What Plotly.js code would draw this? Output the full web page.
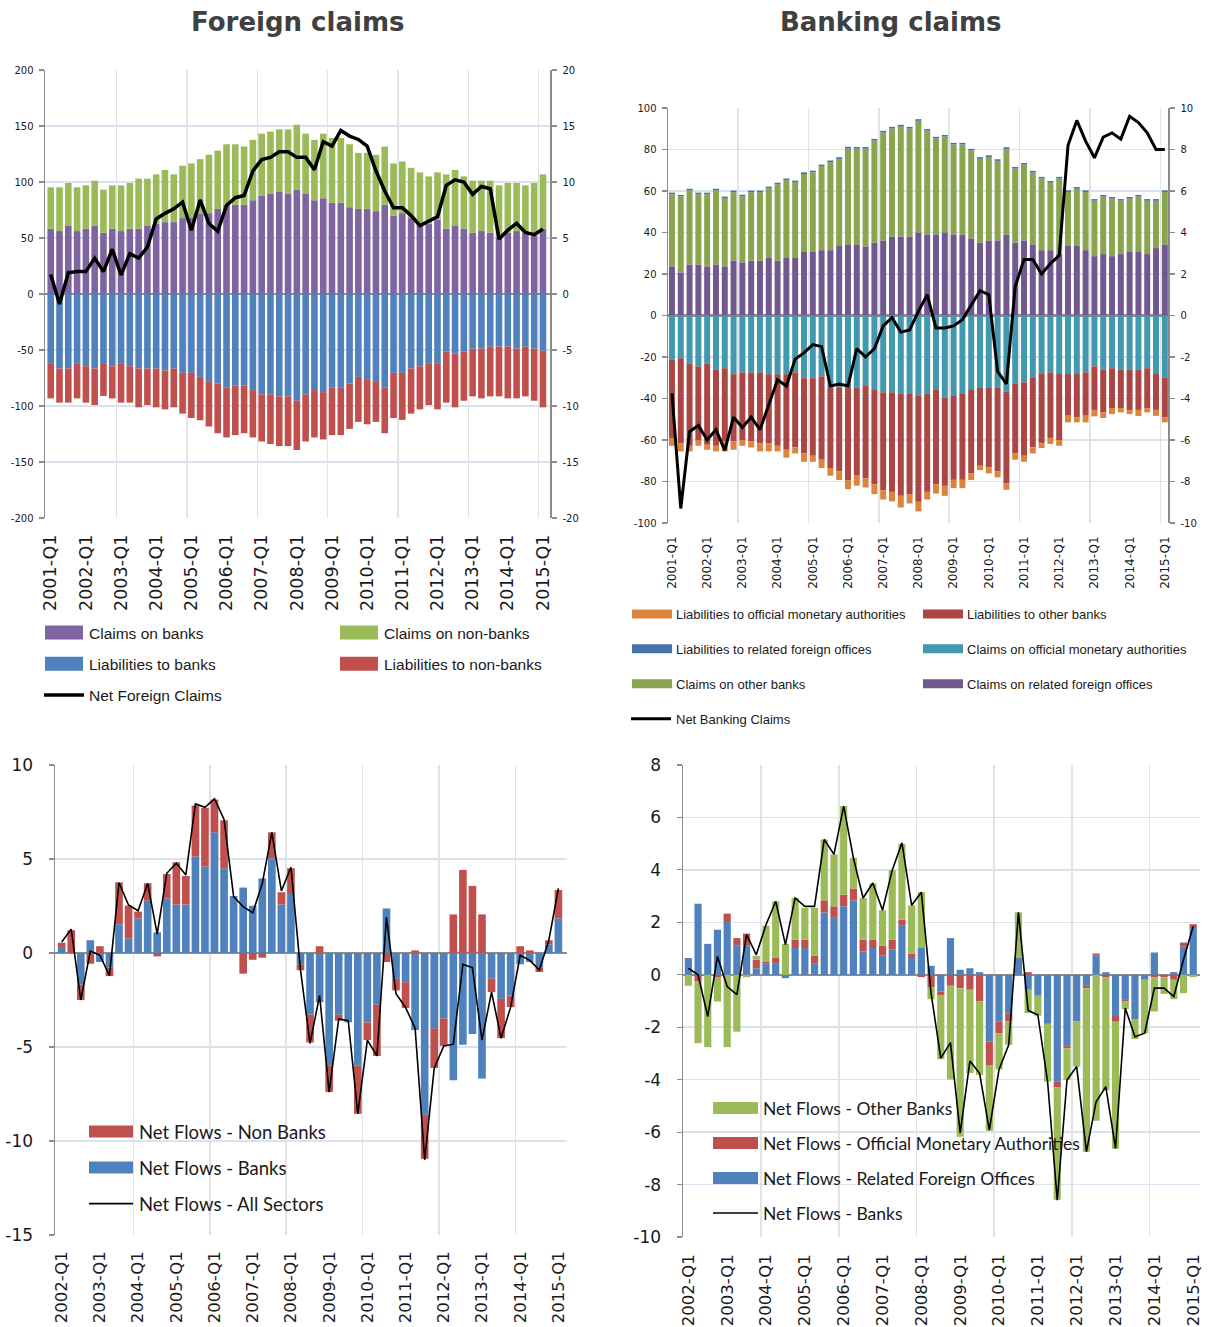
<!DOCTYPE html>
<html>
<head>
<meta charset="utf-8">
<script src="https://cdn.plot.ly/plotly-3.0.1.min.js"></script>
<style>
html, body { margin: 0; padding: 0; background: #ffffff; overflow: hidden; }
#chart { width: 1212px; height: 1327px; }
</style>
</head>
<body>
<div id="chart"></div>
<script>
// ---------------- categories / tick labels ----------------
const quartersA = [];
for (let y = 2001; y <= 2015; y++) { for (let k = 1; k <= 4; k++) { if (y === 2015 && k > 1) break; quartersA.push(y + '-Q' + k); } }
const quartersB = quartersA.slice(4); // 2002-Q1 .. 2015-Q1

const tickLabelsA = ['2001-Q1','2002-Q1','2003-Q1','2004-Q1','2005-Q1','2006-Q1','2007-Q1','2008-Q1','2009-Q1','2010-Q1','2011-Q1','2012-Q1','2013-Q1','2014-Q1','2015-Q1'];
const tickLabelsB = ['2002-Q1','2003-Q1','2004-Q1','2005-Q1','2006-Q1','2007-Q1','2008-Q1','2009-Q1','2010-Q1','2011-Q1','2012-Q1','2013-Q1','2014-Q1','2015-Q1'];

const yTicksP1Left = [-200,-150,-100,-50,0,50,100,150,200];
const yTicksP1Right = [-20,-15,-10,-5,0,5,10,15,20];
const yTicksP2Left = [-100,-80,-60,-40,-20,0,20,40,60,80,100];
const yTicksP2Right = [-10,-8,-6,-4,-2,0,2,4,6,8,10];
const yTicksP3 = [-15,-10,-5,0,5,10];
const yTicksP4 = [-10,-8,-6,-4,-2,0,2,4,6,8];

// ---------------- Panel 1: Foreign claims ----------------
const claimsOnBanks = [58.3,56.2,60.7,56.2,58.3,60.7,54.7,58.3,56.2,58.3,58.3,60.7,62.7,64.2,64.2,67.8,67.8,71.6,72.2,76,
  79.6,79.6,79.6,83.7,87.6,89.3,91.1,89.3,92.9,89.3,83.7,85.5,81.4,81.4,77.5,76,76,74,79.6,
  70.1,72.2,67.8,62.7,62.7,66.3,58.3,60.7,58.3,54.7,56.2,54.7,50,54.7,56.2,54.7,52.4,58.3];
const claimsOnNonBanks = [37.0,39.1,38.4,39.1,38.7,40.5,38.5,38.7,40.8,40.8,44.7,42.3,44.1,46.5,42.6,46.7,48.8,48.8,52.1,52,
  54.1,54.1,52.1,53.9,55.6,55.7,55.9,57.7,58.3,53.9,53.9,57.7,57.9,57.9,56.2,50,50,50.3,52.1,
  46.5,46.1,44.9,45.9,42.3,42.3,48.5,50,46.7,46.5,45,46.5,47,44.4,42.9,42.3,46.7,48.5];
const liabToBanks = [-62.4,-66.6,-66.6,-62.4,-64.5,-66.6,-62.4,-64.5,-62.4,-64.5,-66.6,-66.6,-66.6,-68.3,-66.6,-70.4,-70.4,-74,-77.8,-79.9,
  -83.7,-81.7,-81.7,-85.8,-89.6,-89.6,-91.4,-91.4,-95.3,-89.6,-85.8,-87.6,-83.7,-83.7,-79.9,-74,-76,-77.8,-83.7,
  -70.4,-70.4,-66.6,-64.5,-62.4,-62.4,-51.2,-53,-51.2,-48.8,-48.8,-47,-47,-47,-48.8,-47,-48.8,-50.6];
const liabToNonBanks = [-30.8,-30.4,-30.4,-30.8,-32.5,-32.5,-28.7,-28.7,-34.6,-32.5,-34.6,-32.5,-34.6,-34.7,-34.6,-36.4,-40.3,-38.7,-40.5,-44.4,
  -44.4,-44.3,-42.6,-42.3,-42.1,-44.4,-44.4,-44.4,-44,-42.1,-42.3,-42.3,-42.3,-42.3,-40.5,-40.2,-40.3,-36.4,-40.6,
  -40.3,-42,-40.2,-38.5,-36.7,-40.6,-45.8,-48.2,-44.1,-42.6,-44.4,-44.4,-44.4,-46.2,-44.4,-44.4,-46.5,-50.6];
const netForeignClaims = [1.75,-0.9,1.9,2.0,2.0,3.2,2.0,4.0,1.7,3.6,3.2,4.2,6.7,7.2,7.6,8.2,5.7,8.4,6.3,5.6,
  7.9,8.6,8.8,11.0,12.0,12.2,12.7,12.7,12.2,12.2,11.1,13.6,13.2,14.6,14.1,13.8,13.2,11.0,9.2,
  7.7,7.7,7.0,6.1,6.5,6.9,9.7,10.2,10.0,8.9,9.6,9.4,4.9,5.7,6.3,5.5,5.3,5.8];

// ---------------- Panel 2: Banking claims ----------------
const claimsRelatedOffices = [23.7,20.8,24.6,24.6,23.7,24.6,23.7,26.5,25.6,26.5,26.5,27.7,26.5,27.7,27.7,30.6,30.6,31.5,31.5,33.5,
  34.3,34.3,33.3,35.2,36.2,38.1,38.1,38.1,40.1,39.1,39.1,40.1,39.1,39.1,37.2,35.2,36.2,36.2,39.1,
  35.2,36.2,34.3,31.5,31.5,29.8,33.5,33.5,31.5,28.6,29.6,28.6,29.6,30.6,30.6,29.6,32.5,34.3];
const claimsOtherBanks = [34.7,36.6,35.7,33.8,34.7,35.7,32.8,32.9,31.8,32.9,32.9,33.6,36.7,37.5,36.5,37.6,38.4,40.4,42.4,42,
  46.1,46.1,47.1,49.1,52,52,53,52,53.7,50,46.2,46.1,43.3,43.3,42.3,40.3,40.2,38.3,41.2,
  35.6,36.5,34.6,34.5,32.5,36.2,26,27.6,28,26.7,27.7,27.7,25.7,25.7,26.7,25.7,22.8,25.2];
const liabRelatedOffices = [0.8,0.7,0.8,0.8,0.8,0.8,0.8,0.8,0.8,0.8,0.8,0.8,0.8,0.8,0.8,0.8,0.8,0.8,0.8,0.8,
  0.9,0.8,0.8,0.8,0.8,0.8,0.8,0.8,0.8,0.8,0.8,0.8,0.8,0.8,0.8,0.8,0.8,0.8,0.8,
  0.8,0.8,0.8,0.8,0.8,0.8,0.8,0.8,0.8,0.8,0.8,0.8,0.8,0.8,0.8,0.8,0.8,0.8];
const claimsOfficialMA = [-21.4,-20.6,-23.3,-24.5,-23.3,-26.2,-25.4,-28.3,-27.4,-27.4,-27.4,-28.3,-28.3,-28.3,-27.4,-30.2,-30.2,-29.3,-34.9,-34.9,
  -34.9,-34.9,-34,-35.9,-37,-37,-37.8,-37.8,-38.8,-37.8,-35.9,-39.7,-38.8,-37.8,-35.9,-34.9,-34.9,-34.9,-36.8,
  -33,-32.2,-30.1,-28.2,-27.4,-28.2,-28.2,-28.2,-27.4,-24.5,-26.2,-25.4,-26.2,-26.2,-26.2,-25.4,-28.2,-30.1];
const liabOtherBanks = [-37.6,-41,-39.5,-35.5,-39,-36.6,-35.3,-32.4,-32.6,-33.3,-34.2,-33.3,-34.5,-36.4,-36.2,-36.3,-37.4,-40.2,-38.6,-40.2,
  -44.4,-42.3,-44.4,-45.4,-47.2,-48,-49.1,-48.3,-51,-47.2,-45.4,-42.4,-40.4,-41.4,-40.2,-37.5,-38.3,-40.2,-44.1,
  -33.5,-35.4,-33.5,-33.4,-31.6,-31.8,-20.1,-20.9,-20.9,-21,-20.5,-19.2,-18.4,-19.3,-19.3,-19.2,-17.3,-19];
const liabOfficialMA = [-3.8,-3.9,-2.7,-2.8,-2.4,-2.7,-4.8,-4,-2.8,-2.9,-3.9,-3.9,-2.7,-3.8,-2.9,-4,-2.9,-4,-3.7,-4.2,
  -4.4,-4.8,-4.5,-4.8,-4.5,-4.6,-5.6,-4.5,-4.6,-3.7,-4.5,-4.8,-4,-4,-3.2,-2.1,-2.9,-2.9,-3.1,
  -3,-2.9,-2.9,-2.3,-2.9,-2.8,-3.2,-2.4,-3.2,-3.1,-2.7,-2.9,-2.1,-2,-2.9,-2.1,-2.9,-2.4];
const netBankingClaims = [-3.75,-9.3,-5.6,-5.3,-6.0,-5.5,-6.5,-4.9,-5.4,-4.9,-5.5,-4.3,-3.1,-3.4,-2.1,-1.8,-1.4,-1.5,-3.4,-3.3,
  -3.4,-1.6,-2.0,-1.6,-0.5,-0.1,-0.8,-0.7,0.2,1.0,-0.6,-0.6,-0.5,-0.2,0.5,1.2,1.0,-2.7,-3.3,
  1.4,2.7,2.7,2.0,2.5,2.9,8.2,9.4,8.4,7.6,8.6,8.8,8.5,9.6,9.3,8.8,8.0,8.0];

// ---------------- Panel 3: Net flows by sector ----------------
const flowsBanks = [0.27,0,-1.68,0.68,-0.48,-0.78,1.53,0.77,1.84,2.78,1.1,2.9,2.58,2.58,5.13,4.6,6.42,4.51,
  3.03,3.48,2.51,3.97,5.04,2.58,3.14,-0.6,-3.28,-2.62,-6.0,-3.28,-3.69,-6.0,-3.69,-2.75,2.37,-1.37,
  -1.55,-4.1,-8.6,-4.0,-3.48,-6.77,-4.88,-4.31,-6.68,-1.37,-2.44,-2.26,-0.6,-0.48,-0.78,0.46,1.84];
const flowsNonBanks = [0.28,1.21,-0.82,-0.57,0.36,-0.45,2.23,1.75,0.36,0.93,-0.18,1.3,2.25,1.52,2.71,3.12,1.74,2.55,
  0,-1.1,-0.36,-0.25,1.38,0.65,1.37,-0.32,-1.48,0.36,-1.39,-0.32,0,-2.55,-0.94,-2.73,-0.48,-0.62,
  -1.37,0.14,-2.35,-2.12,-1.46,2.05,4.42,3.57,2.05,-0.71,-2.09,-0.62,0.36,0.14,-0.23,0.22,1.51];
const flowsAllSectors = [0.59,1.27,-2.5,0.1,-0.12,-1.2,3.74,2.55,2.25,3.7,1.0,4.24,4.78,4.15,7.93,7.75,8.2,7.1,
  3.0,2.46,2.14,3.7,6.42,3.3,4.56,-0.9,-4.81,-2.26,-7.4,-3.51,-3.6,-8.56,-4.63,-5.47,1.9,-2.17,
  -2.9,-4.0,-11.0,-6.13,-4.94,-4.85,-0.6,-0.78,-4.63,-2.08,-4.53,-2.88,-0.12,-0.39,-0.9,0.68,3.44];

// ---------------- Panel 4: Net bank flows by counterpart ----------------
const flowsRelatedOffices = [0.64,2.71,1.18,1.72,2.01,1.11,1.11,0.25,0.42,0.42,-0.13,1.02,1.02,0.42,2.38,2.17,2.61,2.84,
  0.89,1.02,0.73,0.96,1.87,0.64,1.02,0.34,-0.64,1.40,0.19,0.25,0.1,-2.55,-1.78,-1.49,0.64,-0.57,
  -0.8,-1.87,-4.08,-2.71,-1.78,-0.42,0.73,0.1,-1.57,-0.93,-1.69,-0.19,0.85,0,0.1,1.08,1.78];
const flowsOfficialMA = [0,-0.25,0,-0.09,0.32,0.29,0.46,0.32,0.09,0.24,0,0.32,0.32,0.31,0.46,0.44,0.45,0.45,
  0.45,0.32,0.38,0.38,0.23,0.16,-0.09,-0.48,-0.15,-0.42,-0.51,-0.57,-1.02,-0.89,-0.45,-0.29,0,0.1,
  0,0,-0.22,-0.09,0,-0.09,0.08,-0.09,-0.22,-0.09,0,0,-0.09,-0.09,-0.19,0.15,0.15];
const flowsOtherBanks = [-0.42,-2.36,-2.76,-0.93,-2.76,-2.17,-0.09,0.15,1.36,2.14,1.18,1.59,1.21,1.82,2.32,1.98,3.37,1.17,
  1.59,2.14,1.35,2.65,2.89,1.85,2.13,-0.45,-2.43,-3.57,-5.67,-3.18,-2.8,-2.51,-1.38,-0.89,1.74,-0.89,
  -0.76,-2.2,-4.28,-1.21,-1.72,-6.24,-5.57,-4.31,-4.84,-0.29,-0.76,-2.04,-1.31,-0.64,-0.74,-0.7,-0.09];
const flowsBanksTotal = [0.25,0,-1.59,0.7,-0.45,-0.76,1.53,0.76,1.91,2.8,1.15,2.93,2.61,2.61,5.16,4.59,6.43,4.46,
  2.93,3.5,2.46,3.99,5.03,2.65,3.15,-0.7,-3.18,-2.59,-6.03,-3.29,-3.76,-5.92,-3.61,-2.67,2.38,-1.36,
  -1.53,-4.07,-8.6,-4.01,-3.5,-6.75,-4.84,-4.27,-6.62,-1.27,-2.36,-2.23,-0.51,-0.51,-0.83,0.57,1.85];

// ---------------- styling ----------------
const W = 1212, H = 1327;
const px = v => v / W;
const py = v => 1 - v / H;
const TICK_FONT = 'DejaVu Sans, Verdana, sans-serif';
const NARROW = '"Liberation Sans", Arial, sans-serif';
const CALI = 'Lato, Carlito, Calibri, sans-serif';
const GRID_BLUE = '#d9e3f0';
const GRID_GRAY = '#e3e3e3';
const AXIS_GRAY = '#8c8c8c';
const TXT = '#1a1a1a';

const xA = quartersA.map((q, i) => i);
const xB = quartersB.map((q, i) => i);
const tickPosA = tickLabelsA.map(t => quartersA.indexOf(t));
const tickPosB = tickLabelsB.map(t => quartersB.indexOf(t));
const minorA = xA.filter(i => i % 8 === 7).map(i => i + 0.5);
const minorB = xB.filter(i => i % 8 === 7).map(i => i + 0.5);

function bar(name, x, y, color, xa, ya, width, legend, rank) {
  return { type: 'bar', name: name, x: x, y: y, xaxis: xa, yaxis: ya, width: width,
    marker: { color: color, line: { width: 0 } }, legend: legend, legendrank: rank, legendgroup: name,
    hoverinfo: 'skip' };
}
function line(name, x, y, xa, ya, w, legend, rank) {
  return { type: 'scatter', mode: 'lines', name: name, x: x, y: y, xaxis: xa, yaxis: ya,
    line: { color: '#000000', width: w }, legend: legend, legendrank: rank, legendgroup: name, hoverinfo: 'skip' };
}

const data = [
  // panel 1
  bar('Claims on banks', xA, claimsOnBanks, '#8064a2', 'x', 'y', 0.75, 'legend', 1),
  bar('Claims on non-banks', xA, claimsOnNonBanks, '#9bbb59', 'x', 'y', 0.75, 'legend2', 1),
  bar('Liabilities to banks', xA, liabToBanks, '#4f81bd', 'x', 'y', 0.75, 'legend', 2),
  bar('Liabilities to non-banks', xA, liabToNonBanks, '#c0504d', 'x', 'y', 0.75, 'legend2', 2),
  line('Net Foreign Claims', xA, netForeignClaims, 'x', 'y5', 3.5, 'legend', 3),
  // panel 2
  bar('Claims on related foreign offices', xA, claimsRelatedOffices, '#71588f', 'x2', 'y2', 0.68, 'legend4', 3),
  bar('Claims on other banks', xA, claimsOtherBanks, '#89a54e', 'x2', 'y2', 0.68, 'legend3', 3),
  bar('Liabilities to related foreign offices', xA, liabRelatedOffices, '#4572a7', 'x2', 'y2', 0.68, 'legend3', 2),
  bar('Claims on official monetary authorities', xA, claimsOfficialMA, '#4198af', 'x2', 'y2', 0.68, 'legend4', 2),
  bar('Liabilities to other banks', xA, liabOtherBanks, '#aa4643', 'x2', 'y2', 0.68, 'legend4', 1),
  bar('Liabilities to official monetary authorities', xA, liabOfficialMA, '#db843d', 'x2', 'y2', 0.68, 'legend3', 1),
  line('Net Banking Claims', xA, netBankingClaims, 'x2', 'y6', 3, 'legend3', 4),
  // panel 3
  bar('Net Flows - Banks', xB, flowsBanks, '#4f81bd', 'x3', 'y3', 0.8, 'legend5', 2),
  bar('Net Flows - Non Banks', xB, flowsNonBanks, '#c0504d', 'x3', 'y3', 0.8, 'legend5', 1),
  line('Net Flows - All Sectors', xB, flowsAllSectors, 'x3', 'y3', 1.6, 'legend5', 3),
  // panel 4
  bar('Net Flows - Related Foreign Offices', xB, flowsRelatedOffices, '#4f81bd', 'x4', 'y4', 0.74, 'legend6', 3),
  bar('Net Flows - Official Monetary Authorities', xB, flowsOfficialMA, '#c0504d', 'x4', 'y4', 0.74, 'legend6', 2),
  bar('Net Flows - Other Banks', xB, flowsOtherBanks, '#9bbb59', 'x4', 'y4', 0.74, 'legend6', 1),
  line('Net Flows - Banks', xB, flowsBanksTotal, 'x4', 'y4', 1.6, 'legend6', 4)
];

function xAxis(domain, range, tickvals, ticktext, minorVals, fontSize, standoff, anchor) {
  return { type: 'linear', domain: domain, range: range, anchor: anchor, tickmode: 'array',
    tickvals: tickvals, ticktext: ticktext, tickangle: -90, ticks: '', showgrid: false, zeroline: false,
    showline: false, ticklabelstandoff: standoff, fixedrange: true, automargin: false,
    tickfont: { family: TICK_FONT, size: fontSize, color: TXT },
    minor: { tickmode: 'array', tickvals: minorVals, showgrid: true, gridcolor: GRID_GRAY, gridwidth: 1.5, ticks: '' } };
}
function yAxis(domain, range, ticks, fontSize, anchor, standoff) {
  return { domain: domain, range: range, tickmode: 'array', tickvals: ticks, ticktext: ticks.map(String), anchor: anchor,
    showgrid: true, gridcolor: GRID_BLUE, gridwidth: 1.5, zeroline: true, zerolinecolor: AXIS_GRAY, zerolinewidth: 2.2,
    showline: true, linecolor: AXIS_GRAY, linewidth: 1.5, ticks: 'outside', ticklen: 5, tickcolor: AXIS_GRAY,
    tickwidth: 1.2, ticklabelstandoff: standoff, fixedrange: true, automargin: false,
    tickfont: { family: TICK_FONT, size: fontSize, color: TXT } };
}
function yRight(overlay, range, ticks, fontSize, anchor) {
  return { overlaying: overlay, side: 'right', anchor: anchor, range: range, tickmode: 'array', tickvals: ticks,
    ticktext: ticks.map(String), showgrid: false, zeroline: false, showline: true, linecolor: AXIS_GRAY, linewidth: 1.5,
    ticks: 'outside', ticklen: 5, tickcolor: AXIS_GRAY, tickwidth: 1.2, ticklabelstandoff: 4, fixedrange: true,
    automargin: false, tickfont: { family: TICK_FONT, size: fontSize, color: TXT } };
}
function legendBox(x, y, family, size, gap) {
  return { x: x, y: y, xref: 'paper', yref: 'paper', xanchor: 'left', yanchor: 'top', orientation: 'v',
    bgcolor: 'rgba(0,0,0,0)', borderwidth: 0, traceorder: 'grouped', tracegroupgap: gap, itemwidth: 40,
    font: { family: family, size: size, color: TXT }, itemclick: false, itemdoubleclick: false };
}

const layout = {
  width: W, height: H,
  margin: { l: 0, r: 0, t: 0, b: 0, pad: 0, autoexpand: false },
  paper_bgcolor: '#ffffff', plot_bgcolor: 'rgba(0,0,0,0)',
  barmode: 'relative', bargap: 0.25,
  showlegend: true,
  // panel 1
  xaxis: xAxis([px(45), px(550)], [-0.65, 56.8], tickPosA, tickLabelsA, minorA, 17.5, 12, 'y'),
  yaxis: yAxis([py(518), py(70)], [-200, 200], yTicksP1Left, 10, 'x', 3),
  yaxis5: yRight('y', [-20, 20], yTicksP1Right, 10, 'x'),
  // panel 2
  xaxis2: xAxis([px(668), px(1168)], [-0.45, 56.36], tickPosA, tickLabelsA, minorA, 12, 10, 'y2'),
  yaxis2: yAxis([py(523), py(108)], [-100, 100], yTicksP2Left, 10, 'x2', 3),
  yaxis6: yRight('y2', [-10, 10], yTicksP2Right, 10, 'x2'),
  // panel 3
  xaxis3: xAxis([px(55), px(567)], [-0.7, 52.9], tickPosB, tickLabelsB, minorB, 16.5, 12, 'y3'),
  yaxis3: yAxis([py(1235), py(765)], [-15, 10], yTicksP3, 17, 'x3', 12),
  // panel 4
  xaxis4: xAxis([px(683), px(1200)], [-0.55, 52.7], tickPosB, tickLabelsB, minorB, 16.5, 13, 'y4'),
  yaxis4: yAxis([py(1237), py(765)], [-10, 8], yTicksP4, 17, 'x4', 12),
  legend: legendBox(px(39), py(616), NARROW, 15.5, 8),
  legend2: legendBox(px(334), py(616), NARROW, 15.5, 8),
  legend3: legendBox(px(626), py(599), NARROW, 13, 15),
  legend4: legendBox(px(917), py(599), NARROW, 13, 15),
  legend5: legendBox(px(89), py(1113), CALI, 18.5, 9),
  legend6: legendBox(px(713), py(1090), CALI, 17.5, 9.3),
  annotations: [
    { text: 'Foreign claims', x: px(297), y: py(22), xref: 'paper', yref: 'paper', xanchor: 'center', yanchor: 'middle',
      showarrow: false, font: { family: 'DejaVu Sans, Verdana, sans-serif', size: 26, weight: 'bold', color: '#404040' } },
    { text: 'Banking claims', x: px(891), y: py(22), xref: 'paper', yref: 'paper', xanchor: 'center', yanchor: 'middle',
      showarrow: false, font: { family: 'DejaVu Sans, Verdana, sans-serif', size: 26, weight: 'bold', color: '#404040' } }
  ]
};

// wide rectangular legend swatches, as in the reference
const swatchPaths = {
  legend: 'M19,7H-19V-7H19Z', legend2: 'M19,7H-19V-7H19Z',
  legend3: 'M21,4.5H-19V-4.5H21Z', legend4: 'M21,4.5H-19V-4.5H21Z',
  legend5: 'M19,6H-32V-6H19Z', legend6: 'M20,6H-28V-6H20Z'
};
const linePaths = { legend5: 'M-7,0h51', legend6: 'M-3,0h48' };

const chartEl = document.getElementById('chart');
function legendAt(cx, cy) {
  if (cy > 600 && cy < 735) {
    if (cx < 300) return 'legend';
    if (cx < 610) return 'legend2';
    if (cx < 905) return 'legend3';
    return 'legend4';
  }
  if (cy > 1090 && cy < 1230) return cx < 606 ? 'legend5' : 'legend6';
  return null;
}
function restyleLegendSymbols() {
  const base = chartEl.getBoundingClientRect();
  chartEl.querySelectorAll('path').forEach(function (p) {
    if (p.getAttribute('data-sw') === '1') return;
    const r = p.getBoundingClientRect();
    if (!r || (r.width === 0 && r.height === 0)) return;
    const cx = r.left - base.left + r.width / 2;
    const cy = r.top - base.top + r.height / 2;
    const lg = legendAt(cx, cy);
    if (!lg) return;
    if (Math.abs(r.width - 12) < 1.6 && Math.abs(r.height - 12) < 1.6) {
      p.setAttribute('d', swatchPaths[lg]);
      p.setAttribute('data-sw', '1');
    } else if (r.height < 5 && r.width > 25 && r.width < 46 && linePaths[lg]) {
      p.setAttribute('d', linePaths[lg]);
      p.setAttribute('data-sw', '1');
    }
  });
}

Plotly.newPlot('chart', data, layout, { displayModeBar: false, staticPlot: true }).then(function () {
  restyleLegendSymbols();
  [0, 20, 60, 150, 400].forEach(function (t) { setTimeout(restyleLegendSymbols, t); });
});
</script>
</body>
</html>
